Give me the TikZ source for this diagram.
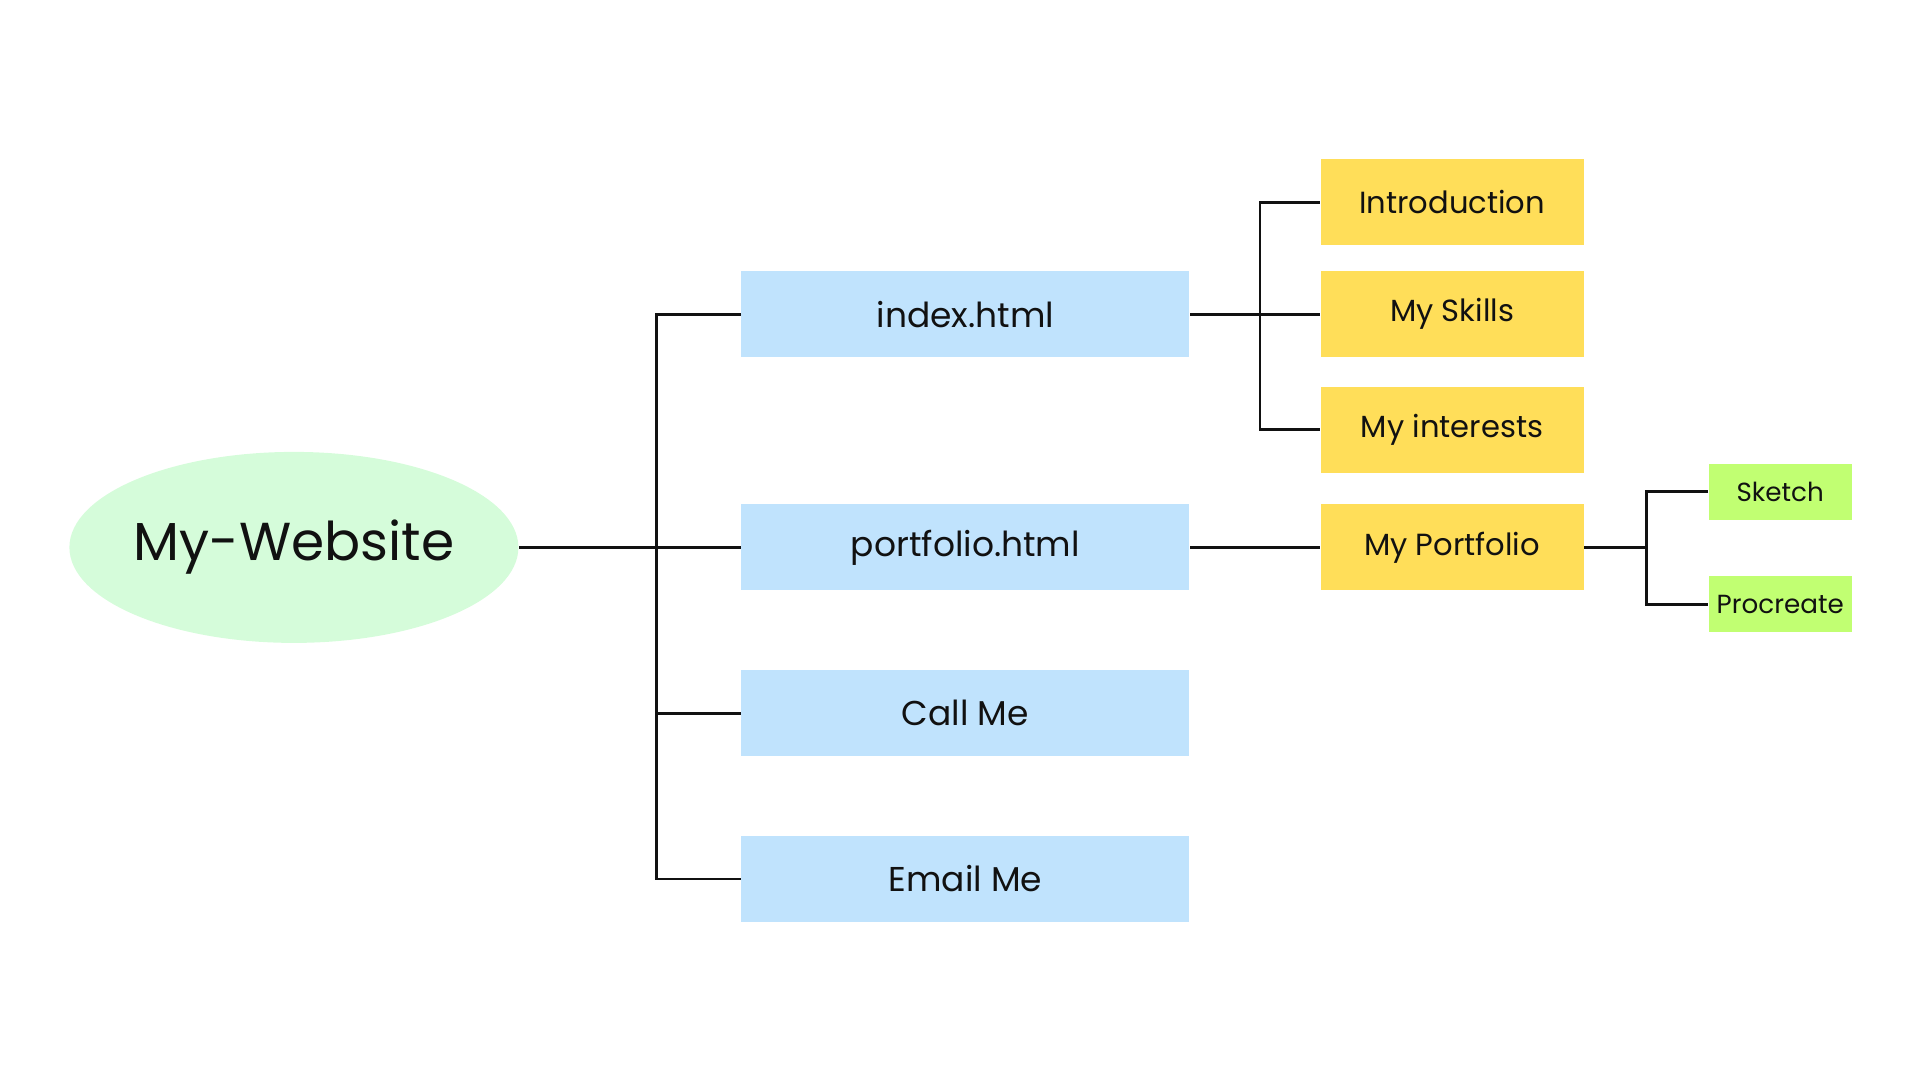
\documentclass[tikz,border=0pt]{standalone}
\usepackage{fontspec}
\setmainfont{Poppins}
\usetikzlibrary{positioning, calc, shapes.geometric}
\definecolor{rootgreen}{HTML}{D5FCDA}
\definecolor{pageblue}{HTML}{C0E3FD}
\definecolor{sectyellow}{HTML}{FFDE59}
\definecolor{sublime}{HTML}{C1FF72}
\definecolor{ink}{HTML}{111111}

\begin{document}
\begin{tikzpicture}[
  root/.style={ellipse, fill=rootgreen, minimum width=4.49cm, minimum height=1.91cm,
               inner sep=0pt, font=\fontsize{15.2}{18}\selectfont, text=ink},
  page/.style={fill=pageblue, minimum width=4.48cm, minimum height=0.86cm,
               inner sep=0pt, font=\fontsize{9.8}{12}\selectfont, text=ink},
  section/.style={fill=sectyellow, minimum width=2.63cm, minimum height=0.86cm,
                  inner sep=0pt, font=\fontsize{8.7}{11}\selectfont, text=ink},
  leaf/.style={fill=sublime, minimum width=1.43cm, minimum height=0.56cm,
               inner sep=0pt, font=\fontsize{7.45}{9}\selectfont, text=ink},
  link/.style={draw=ink, line width=0.75pt},
]
  \useasboundingbox (0,0) rectangle (19.2,-10.8);

  % Root
  \node[root] (site) at (2.939,-5.474) {\makebox[0pt]{My-Website}};

  % Pages
  \node[page, right=2.216cm of site] (portfolio) {portfolio.html};
  \node[page, above=1.457cm of portfolio] (index) {index.html};
  \node[page, below=0.784cm of portfolio] (call) {Call Me};
  \node[page, below=0.784cm of call] (email) {Email Me};

  % Sections of index.html
  \node[section, right=1.298cm of index] (skills) {My Skills};
  \node[section, above=0.245cm of skills] (intro) {Introduction};
  \node[section, below=0.28cm of skills] (interests) {My interests};

  % Section of portfolio.html
  \node[section, right=1.298cm of portfolio] (myport) {My Portfolio};
  \node[leaf, right=1.237cm of myport, yshift=0.557cm] (sketch) {Sketch};
  \node[leaf, below=0.551cm of sketch] (procreate) {Procreate};

  % Connectors
  \coordinate (trunk) at ([xshift=-0.845cm]portfolio.west);
  \coordinate (idxfork) at ([xshift=0.698cm]index.east);
  \coordinate (ptfork) at ([xshift=0.624cm]myport.east);

  \draw[link] (site) -- (portfolio);
  \draw[link] (index.west) -| (trunk) |- (email.west);
  \draw[link] (trunk |- call.west) -- (call.west);

  \draw[link] (index.east) -- (skills.west);
  \draw[link] (intro.west) -| (idxfork) |- (interests.west);

  \draw[link] (portfolio.east) -- (myport.west);
  \draw[link] (myport.east) -- (ptfork);
  \draw[link] (sketch.west) -| (ptfork) |- (procreate.west);
\end{tikzpicture}
\end{document}
